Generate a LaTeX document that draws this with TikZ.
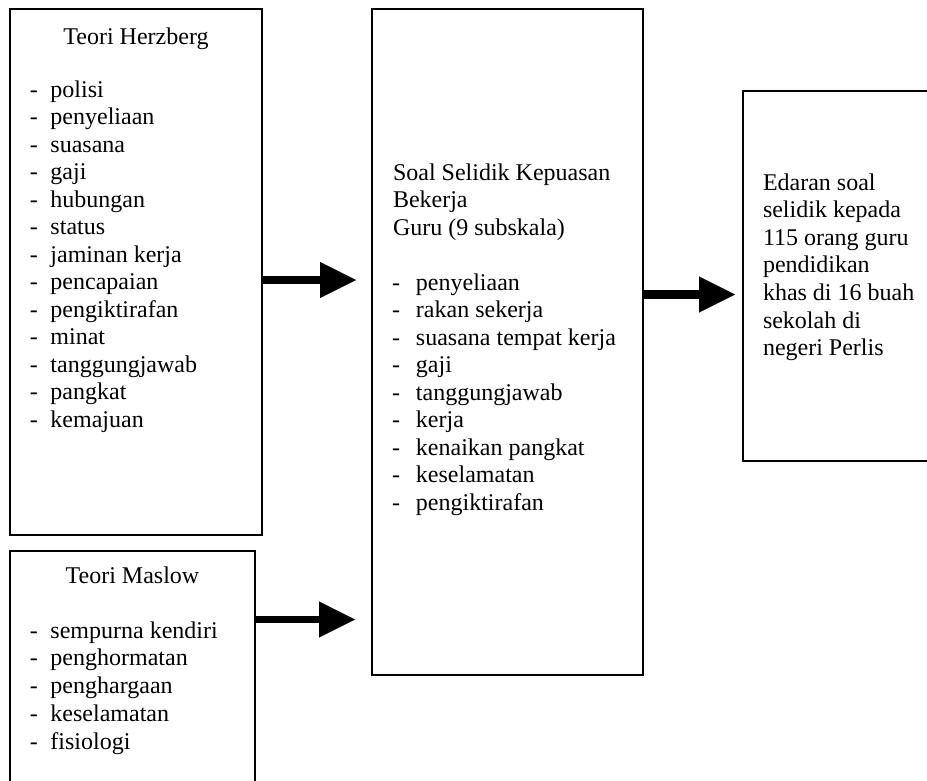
\documentclass[tikz,border=0pt]{standalone}
\usepackage{fontspec}
\setmainfont{Liberation Serif}
\usetikzlibrary{arrows.meta}
\begin{document}
\begin{tikzpicture}[x=1pt,y=-1pt,
  box/.style={draw, line width=2pt, rectangle, inner sep=0pt, outer sep=0pt, anchor=north west},
  txt/.style={inner sep=0pt, outer sep=0pt, anchor=base west, font=\fontsize{24}{27.6}\selectfont},
  ttl/.style={txt, anchor=base},
  bigarrow/.style={line width=7.5pt, -{Triangle[length=36pt,width=36pt,line width=0.1pt]}}
]
\useasboundingbox (0,0) rectangle (927,780);

% boxes
\node[box, minimum width=252pt, minimum height=526pt] (herz) at (10,9) {};
\node[box, minimum width=245pt, minimum height=231pt] (maslow) at (10,551) {};
\node[box, minimum width=271pt, minimum height=666pt] (soal) at (372,9) {};
\node[box, minimum width=186pt, minimum height=370pt] (edaran) at (743,91) {};

% Herzberg
\node[ttl] (herzt) at (136,44) {Teori Herzberg};
\foreach \t [count=\i from 0] in {polisi,penyeliaan,suasana,gaji,hubungan,status,jaminan kerja,pencapaian,pengiktirafan,minat,tanggungjawab,pangkat,kemajuan}
  \node[txt] (h\i) at (30,97+27.5*\i) {\makebox[20.5pt][l]{-}\t};

% Maslow
\node[ttl] (maslowt) at (132.5,583) {Teori Maslow};
\foreach \t [count=\i from 0] in {sempurna kendiri,penghormatan,penghargaan,keselamatan,fisiologi}
  \node[txt] (m\i) at (30,638+27.8*\i) {\makebox[20.5pt][l]{-}\t};

% Soal selidik
\foreach \t [count=\i from 0] in {Soal Selidik Kepuasan,Bekerja,Guru (9 subskala)}
  \node[txt] (s\i) at (393,180+27.5*\i) {\t};
\foreach \t [count=\i from 0] in {penyeliaan,rakan sekerja,suasana tempat kerja,gaji,tanggungjawab,kerja,kenaikan pangkat,keselamatan,pengiktirafan}
  \node[txt] (k\i) at (392,290+27.5*\i) {\makebox[24pt][l]{-}\t};

% Edaran
\foreach \t [count=\i from 0] in {Edaran soal,selidik kepada,115 orang guru,pendidikan,khas di 16 buah,sekolah di,negeri Perlis}
  \node[txt] (e\i) at (763,190+27.6*\i) {\t};

% arrows
\coordinate (y1) at (0,280);
\coordinate (y2) at (0,619.5);
\coordinate (y3) at (0,294.5);
\draw[bigarrow, shorten >=16pt] (herz.east |- y1) -- (soal.west |- y1);
\draw[bigarrow, shorten >=17pt] (maslow.east |- y2) -- (soal.west |- y2);
\draw[bigarrow, line width=8.5pt, shorten >=8pt] (soal.east |- y3) -- (edaran.west |- y3);
\end{tikzpicture}
\end{document}
